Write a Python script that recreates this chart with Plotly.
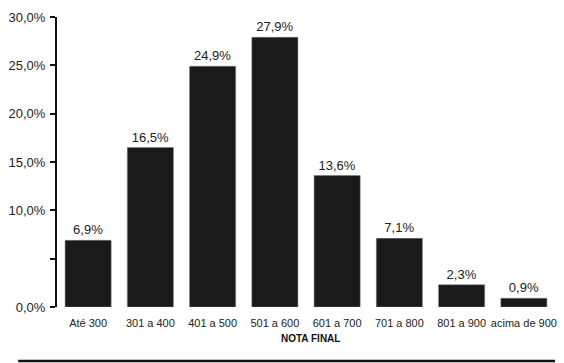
import plotly.graph_objects as go

categories = ["Até 300", "301 a 400", "401 a 500", "501 a 600",
              "601 a 700", "701 a 800", "801 a 900", "acima de 900"]
values = [6.9, 16.5, 24.9, 27.9, 13.6, 7.1, 2.3, 0.9]
tick_vals = [0, 5, 10, 15, 20, 25, 30]
tick_text = ["0,0%", "", "10,0%", "15,0%", "20,0%", "25,0%", "30,0%"]
x_title = "NOTA FINAL"

font = "Liberation Sans, Arial, sans-serif"

fig = go.Figure(go.Bar(
    x=categories, y=values,
    marker=dict(color="#1a1a1a", line=dict(color="#777777", width=0.5)),
    texttemplate="%{y:.1f}%", textposition="outside",
    textfont=dict(family=font, size=13, color="#222222"),
    cliponaxis=False,
))

fig.update_layout(
    width=564, height=363,
    margin=dict(l=57, r=9, t=17, b=56, autoexpand=False),
    paper_bgcolor="white", plot_bgcolor="white",
    separators=",.",
    bargap=0.26,
    showlegend=False,
    font=dict(family=font, color="#222222"),
)
fig.update_xaxes(
    range=[-0.5, 7.5], showline=False, showgrid=False, ticks="",
    tickfont=dict(family=font, size=11, color="#222222"),
    ticklabelstandoff=8, fixedrange=True,
)
fig.update_yaxes(
    range=[0, 30], showline=True, linecolor="#111111", linewidth=2,
    showgrid=False, zeroline=False, ticks="outside", ticklen=5,
    tickwidth=2, tickcolor="#111111",
    tickvals=tick_vals, ticktext=tick_text,
    tickfont=dict(family=font, size=13, color="#222222"),
    ticklabelstandoff=2,
)
fig.add_annotation(
    text="<b>" + x_title + "</b>", xref="paper", yref="paper",
    x=0.51, y=-0.107, showarrow=False, xanchor="center", yanchor="middle",
    font=dict(family=font, size=10, color="#111111"),
)
fig.add_shape(
    type="line", xref="paper", yref="paper",
    x0=-0.078, x1=1.0, y0=-0.186, y1=-0.186,
    line=dict(color="#111111", width=2.5),
)
fig.write_html(
    "out.html",
    config={"displayModeBar": False},
    post_script="document.body.style.margin='0';document.body.style.overflow='hidden';",
)
